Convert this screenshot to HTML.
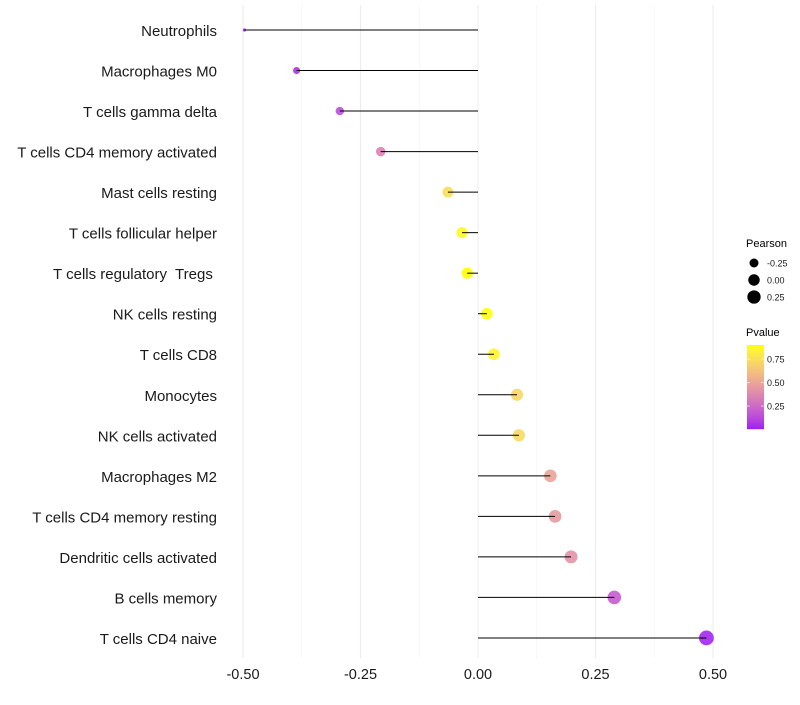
<!DOCTYPE html>
<html><head><meta charset="utf-8"><style>
body{margin:0;background:#fff;font-family:"Liberation Sans",sans-serif}
svg text{font-family:"Liberation Sans",sans-serif;white-space:pre}
</style></head><body>
<svg id="chart" width="800" height="700"></svg>
<script>
const categories=["Neutrophils","Macrophages M0","T cells gamma delta","T cells CD4 memory activated","Mast cells resting","T cells follicular helper","T cells regulatory  Tregs ","NK cells resting","T cells CD8","Monocytes","NK cells activated","Macrophages M2","T cells CD4 memory resting","Dendritic cells activated","B cells memory","T cells CD4 naive"];
const pearson=[-0.497,-0.386,-0.294,-0.207,-0.064,-0.034,-0.023,0.019,0.034,0.083,0.087,0.154,0.164,0.198,0.29,0.486];
const pvalue=[0.03,0.06,0.15,0.35,0.76,0.88,0.9,0.89,0.86,0.72,0.73,0.5,0.46,0.42,0.2,0.03];
const xTicks=[-0.5,-0.25,0,0.25,0.5];
const xMinor=[-0.375,-0.125,0.125,0.375];
const sizeTicks=[-0.25,0,0.25];
const colorTicks=[0.25,0.5,0.75];

const NS="http://www.w3.org/2000/svg";
const svg=document.getElementById('chart');
function mk(t,a,p){const e=document.createElementNS(NS,t);for(const k in a)e.setAttribute(k,a[k]);(p||svg).appendChild(e);return e;}
const X=v=>478+v*470;
const Y=i=>30+i*40.53;
const R=v=>1.6+5.8*Math.sqrt(Math.max(0,(v+0.497)/0.983));
function toLin(c){c/=255;return c<=0.04045?c/12.92:Math.pow((c+0.055)/1.055,2.4);}
function fromLin(c){c=c<=0.0031308?12.92*c:1.055*Math.pow(c,1/2.4)-0.055;return Math.round(Math.max(0,Math.min(1,c))*255);}
function rgb2lab(r,g,b){r=toLin(r);g=toLin(g);b=toLin(b);
let x=(r*0.4124+g*0.3576+b*0.1805)/0.95047,y=r*0.2126+g*0.7152+b*0.0722,z=(r*0.0193+g*0.1192+b*0.9505)/1.08883;
const f=t=>t>0.008856?Math.cbrt(t):7.787*t+16/116;x=f(x);y=f(y);z=f(z);return[116*y-16,500*(x-y),200*(y-z)];}
function lab2rgb(L,a,b){let y=(L+16)/116,x=a/500+y,z=y-b/200;const fi=t=>t*t*t>0.008856?t*t*t:(t-16/116)/7.787;
x=fi(x)*0.95047;y=fi(y);z=fi(z)*1.08883;
const r=x*3.2406+y*-1.5372+z*-0.4986,g=x*-0.9689+y*1.8758+z*0.0415,bb=x*0.0557+y*-0.2040+z*1.0570;
return`rgb(${fromLin(r)},${fromLin(g)},${fromLin(bb)})`;}
const lo=rgb2lab(160,32,240),hi=rgb2lab(255,255,0);
const pMin=0.016,pMax=0.90;
function col(p){let t=(p-pMin)/(pMax-pMin);t=Math.max(0,Math.min(1,t));return lab2rgb(lo[0]+(hi[0]-lo[0])*t,lo[1]+(hi[1]-lo[1])*t,lo[2]+(hi[2]-lo[2])*t);}

xMinor.forEach(v=>{const l=mk('line',{x1:X(v),x2:X(v),y1:5,y2:658,stroke:'#f4f4f4','stroke-width':0.6});

});
xTicks.forEach(v=>{const l=mk('line',{x1:X(v),x2:X(v),y1:5,y2:658,stroke:'#ededed','stroke-width':1.1});


const t=mk('text',{x:X(v),y:679,'text-anchor':'middle','font-size':14.5,fill:'#1a1a1a'});t.textContent=v.toFixed(2);

});
categories.forEach((c,i)=>{const t=mk('text',{x:217,y:Y(i)+6,'text-anchor':'end','font-size':15,fill:'#1a1a1a'});t.textContent=c;

});
categories.forEach((c,i)=>{
const d=mk('circle',{cx:X(pearson[i]),cy:Y(i),r:R(pearson[i]),fill:col(pvalue[i]),'fill-opacity':0.9});


const l=mk('line',{x1:X(pearson[i]),x2:X(0),y1:Y(i),y2:Y(i),stroke:'#000','stroke-width':1});

});
const g=mk('g',{});
let tt=mk('text',{x:746,y:247,'font-size':11,fill:'#000'},g);tt.textContent='Pearson';
sizeTicks.forEach((v,i)=>{const y=263+i*17;mk('circle',{cx:754,cy:y,r:R(v),fill:'#000'},g);
const t=mk('text',{x:767,y:y+3.5,'font-size':9,fill:'#1a1a1a'},g);t.textContent=v.toFixed(2);

});
tt=mk('text',{x:746,y:336,'font-size':11,fill:'#000'},g);tt.textContent='Pvalue';
for(let k=0;k<84;k++){const p=pMax-(k/83)*(pMax-pMin);mk('rect',{x:747,y:345+k,width:17,height:1.2,fill:col(p)},g);}
colorTicks.forEach(v=>{const y=428-(v-pMin)/(pMax-pMin)*83;
mk('line',{x1:747,x2:750,y1:y,y2:y,stroke:'#fff','stroke-width':0.6},g);mk('line',{x1:761,x2:764,y1:y,y2:y,stroke:'#fff','stroke-width':0.6},g);
const t=mk('text',{x:767,y:y+3.5,'font-size':9,fill:'#1a1a1a'},g);t.textContent=v.toFixed(2);

});
</script>
</body></html>
